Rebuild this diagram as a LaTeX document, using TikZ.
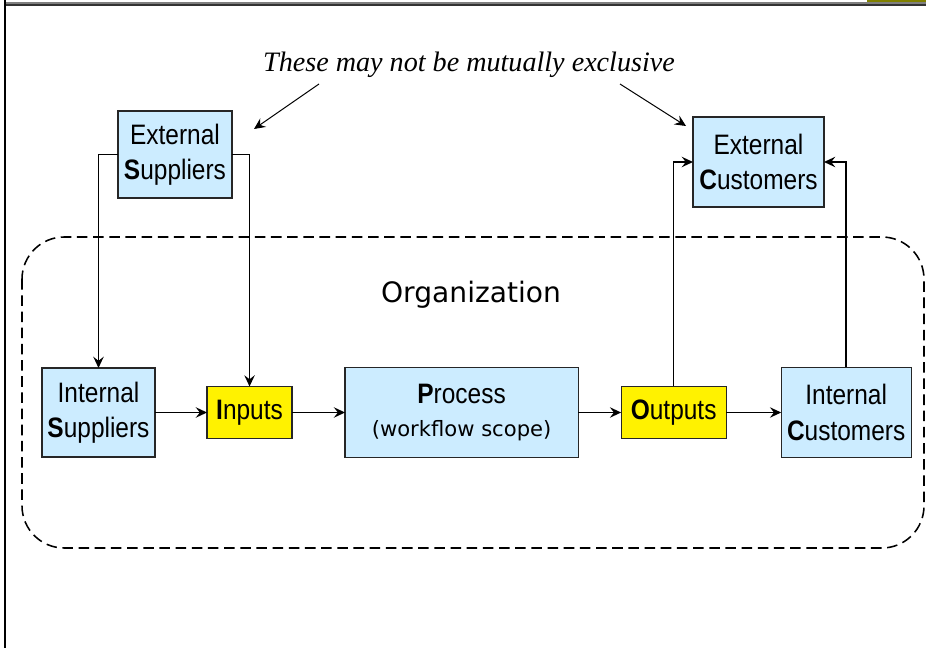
\documentclass[tikz,border=0pt]{standalone}
\usepackage{fontspec}
\newfontfamily\boxfont{Liberation Sans}[FakeStretch=0.87]
\newfontfamily\notefont{Liberation Serif}
\newfontfamily\orgfont{DejaVu Sans}
\usetikzlibrary{arrows.meta, positioning}
\definecolor{boxblue}{HTML}{CCECFF}
\definecolor{slideolive}{HTML}{808000}

\begin{document}
\begin{tikzpicture}[
		x=0.025cm, y=-0.025cm,
		>={Stealth[length=2.8mm,width=2.6mm,inset=1mm]},
		every node/.style={font=\boxfont\fontsize{20}{25}\selectfont},
		party/.style={draw=black!85, rectangle, fill=boxblue, align=center, inner sep=0pt, outer sep=0pt, line width=0.85pt},
		flow/.style={draw=black!85, rectangle, fill=yellow, align=center, inner sep=0pt, outer sep=0pt, minimum height=1.3cm, line width=0.85pt},
		link/.style={->, line width=1.1pt},
		note/.style={font=\notefont\itshape\fontsize{20}{24}\selectfont},
		org/.style={font=\orgfont\fontsize{20}{24}\selectfont}
		]
		\useasboundingbox (0,0) rectangle (926,648);
		
		% --- slide frame ---
		\fill[slideolive] (867,0) rectangle (926,2.3);
		\draw[gray, line width=1.2pt] (5,3) -- (926,3);
		\draw[black!80, line width=1.2pt] (5,5.3) -- (926,5.3);
		\draw[black, line width=1.9pt] (5,0) -- (5,648);
		
		% --- organization boundary ---
		\draw[dash pattern=on 7.5pt off 4pt, rounded corners=30pt, line width=1.1pt] (22,237) rectangle (924,548);
		\node[org, anchor=base] (orgname) at (471,303) {Organization};
		
		% --- bottom row: supply chain through the organization ---
		\node[party, minimum width=2.825cm, minimum height=2.225cm] (intsup) at (98.5,412.5) {Internal\\{\bfseries S}uppliers};
		\node[flow, minimum width=2.125cm, right=1.3cm of intsup] (inputs) {{\bfseries I}nputs};
		\node[party, minimum width=5.825cm, minimum height=2.25cm, right=1.325cm of inputs] (process)
			{{\bfseries P}rocess\\[-1pt]{\orgfont\fontsize{15}{18}\selectfont (workflow scope)}};
		\node[flow, minimum width=2.625cm, right=1.075cm of process] (outputs) {{\bfseries O}utputs};
		\node[party, minimum width=3.25cm, minimum height=2.25cm, right=1.375cm of outputs] (intcust) {Internal\\{\bfseries C}ustomers};
		
		% --- top row: outside parties ---
		\node[party, minimum width=2.85cm, minimum height=2.175cm] (extsup) at (175,154.5) {External\\{\bfseries S}uppliers};
		\node[party, minimum width=3.275cm, minimum height=2.25cm] (extcust) at (758.5,162) {External\\{\bfseries C}ustomers};
		
		% --- remark ---
		\node[note, anchor=base] (remark) at (469,72) {These may not be mutually exclusive};
		\coordinate (remarkL) at (319,84);
		\coordinate (remarkR) at (620,84);
		\coordinate (tipL) at (254,129);
		\coordinate (tipR) at (686,126);
		\draw[->, line width=0.7pt] (remarkL) -- (tipL);
		\draw[->, line width=0.7pt] (remarkR) -- (tipR);
		
		% --- forward flow ---
		\draw[link] (intsup) -- (inputs);
		\draw[link] (inputs) -- (process);
		\draw[link] (process) -- (outputs);
		\draw[link] (outputs) -- (intcust);
		
		% --- links across the boundary ---
		\draw[link] (extsup.west) -| (intsup.north);
		\draw[link] (extsup.east) -| (inputs.north);
		\draw[link] (outputs.north) |- (extcust.west);
		\draw[link] (intcust.north) |- (extcust.east);
	\end{tikzpicture}
\end{document}
